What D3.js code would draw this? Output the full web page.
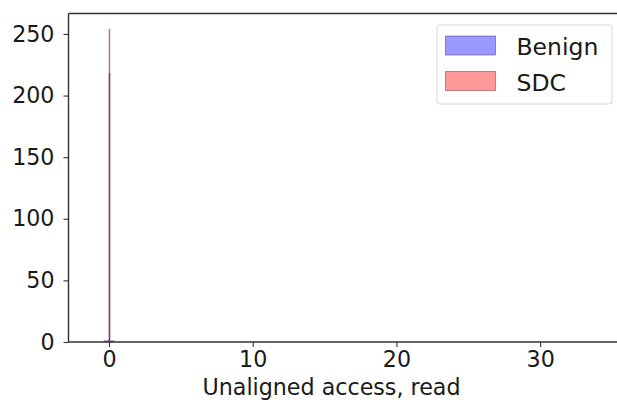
<!DOCTYPE html>
<html>
<head>
<meta charset="utf-8">
<script src="https://cdn.jsdelivr.net/npm/d3@7"></script>
<style>
  html, body { margin: 0; padding: 0; background: #fff; }
  svg { display: block; font-family: "DejaVu Sans", sans-serif; }
</style>
</head>
<body>
<svg id="chart" width="617" height="407"></svg>
<script>
// Data (histogram bins)
const seriesNames = ["Benign", "SDC"];
const benignBinStart = [-0.35, 0.0];
const benignBinEnd   = [0.35, 0.06];
const benignCounts   = [1, 218];
const sdcBinStart = [0.0];
const sdcBinEnd   = [0.06];
const sdcCounts   = [254];
const xTicks = [0, 10, 20, 30];
const yTicks = [0, 50, 100, 150, 200, 250];
const xLabel = "Unaligned access, read";

const svg = d3.select("#chart");
const mLeft = 68.5, mRight = 617, mTop = 13.5, mBottom = 342;
const x = d3.scaleLinear().domain([-2.82, 35.35]).range([mLeft, mRight]);
const y = d3.scaleLinear().domain([0, 266.6]).range([mBottom, mTop]);

const fills = { Benign: "rgba(0,0,255,0.4)", SDC: "rgba(255,0,0,0.4)" };
const strokes = { Benign: "rgba(90,20,90,0.45)", SDC: "rgba(110,20,60,0.45)" };

function drawBars(name, starts, ends, counts) {
  const data = starts.map((s, i) => ({ s, e: ends[i], c: counts[i] }));
  svg.append("g").selectAll("rect").data(data).join("rect")
    .attr("x", d => x(d.s))
    .attr("width", d => Math.max(0.8, x(d.e) - x(d.s)))
    .attr("y", d => y(d.c))
    .attr("height", d => y(0) - y(d.c))
    .attr("fill", fills[name])
    .attr("stroke", strokes[name])
    .attr("stroke-width", 0.8);
}
drawBars("Benign", benignBinStart, benignBinEnd, benignCounts);
drawBars("SDC", sdcBinStart, sdcBinEnd, sdcCounts);

// Axes
const fs = 22.2;
const xAxis = d3.axisBottom(x).tickValues(xTicks).tickSize(5).tickPadding(4).tickFormat(d3.format("d"));
const gx = svg.append("g").attr("transform", `translate(0,${mBottom})`).call(xAxis);
const yAxis = d3.axisLeft(y).tickValues(yTicks).tickSize(5).tickPadding(9).tickFormat(d3.format("d"));
const gy = svg.append("g").attr("transform", `translate(${mLeft},0)`).call(yAxis);
[gx, gy].forEach(g => {
  g.select(".domain").remove();
  g.selectAll(".tick line").attr("stroke", "#333").attr("stroke-width", 1.1);
  g.selectAll(".tick text").attr("fill", "#1a1a1a").style("font-size", fs + "px").style("font-family", "DejaVu Sans");
});

// Spines (left, top, bottom; right is outside the picture)
svg.append("line").attr("x1", mLeft).attr("x2", mLeft).attr("y1", mTop).attr("y2", mBottom).attr("stroke", "#333").attr("stroke-width", 1.4);
svg.append("line").attr("x1", mLeft).attr("x2", 617).attr("y1", mTop).attr("y2", mTop).attr("stroke", "#333").attr("stroke-width", 1.4);
svg.append("line").attr("x1", mLeft).attr("x2", 617).attr("y1", mBottom).attr("y2", mBottom).attr("stroke", "#333").attr("stroke-width", 1.4);

// X label
svg.append("text").attr("x", 331.5).attr("y", 395).attr("text-anchor", "middle")
  .attr("fill", "#1a1a1a").style("font-size", fs + "px").text(xLabel);

// Legend
const lfs = 23.5;
const lg = svg.append("g");
lg.append("rect").attr("x", 437).attr("y", 25).attr("width", 175).attr("height", 79)
  .attr("rx", 3).attr("fill", "rgba(255,255,255,0.8)").attr("stroke", "#d6d6d6").attr("stroke-width", 1);
seriesNames.forEach((n, i) => {
  const yy = 36 + i * 35.5;
  lg.append("rect").attr("x", 445.5).attr("y", yy).attr("width", 50).attr("height", 19)
    .attr("fill", fills[n]).attr("stroke", strokes[n]).attr("stroke-width", 1);
  lg.append("text").attr("x", 516.5).attr("y", yy + 19).attr("fill", "#1a1a1a")
    .style("font-size", lfs + "px").text(n);
});
</script>
</body>
</html>
